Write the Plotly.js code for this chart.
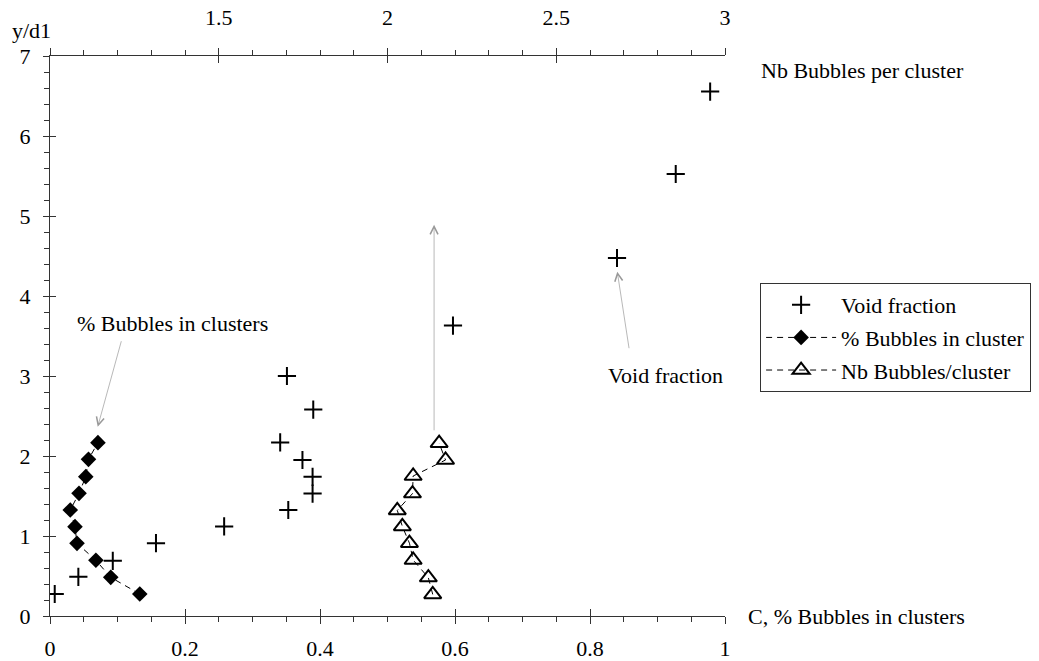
<!DOCTYPE html>
<html>
<head>
<meta charset="utf-8">
<script src="https://cdn.plot.ly/plotly-3.0.1.min.js"></script>
<style>html,body{margin:0;padding:0;background:#fff;}#chart{width:1039px;height:661px;}</style>
</head>
<body>
<div id="chart"></div>
<script>
// ---- data ----
// Void fraction (bottom axis, C)
var voidX = [0.007, 0.042, 0.093, 0.157, 0.258, 0.353, 0.389, 0.389, 0.374, 0.341, 0.390, 0.351, 0.597, 0.840, 0.927, 0.978];
var voidY = [0.275, 0.49, 0.69, 0.91, 1.12, 1.325, 1.53, 1.74, 1.95, 2.17, 2.58, 3.00, 3.63, 4.475, 5.525, 6.555];
// % Bubbles in cluster (bottom axis)
var pctX = [0.133, 0.090, 0.068, 0.040, 0.037, 0.030, 0.043, 0.053, 0.057, 0.071];
var pctY = [0.275, 0.483, 0.696, 0.908, 1.117, 1.325, 1.533, 1.742, 1.958, 2.167];
// Nb Bubbles per cluster (top axis)
var nbX = [2.134, 2.121, 2.076, 2.065, 2.044, 2.029, 2.074, 2.076, 2.172, 2.153];
var nbY = [0.27, 0.48, 0.70, 0.91, 1.12, 1.32, 1.53, 1.75, 1.95, 2.16];
// tick labels
var bottomTicks = [0, 0.2, 0.4, 0.6, 0.8, 1];
var bottomLabels = ['0', '0.2', '0.4', '0.6', '0.8', '1'];
var topTicks = [1, 1.5, 2, 2.5, 3];
var topLabels = ['', '1.5', '2', '2.5', '3'];
var yTicks = [0, 1, 2, 3, 4, 5, 6, 7];
var yLabels = ['0', '1', '2', '3', '4', '5', '6', '7'];

var AX = '#333';
var FONT = "'Liberation Serif', 'DejaVu Serif', 'Times New Roman', serif";

var traces = [
  {x: voidX, y: voidY, type: 'scatter', mode: 'markers', name: 'Void fraction',
   legendgroup: 'a', xaxis: 'x', yaxis: 'y',
   marker: {symbol: 'cross-thin-open', size: 13, color: 'black', line: {color: 'black', width: 2}}},
  {x: pctX, y: pctY, type: 'scatter', mode: 'lines+markers', name: '% Bubbles in cluster',
   legendgroup: 'b', xaxis: 'x', yaxis: 'y',
   line: {color: 'black', width: 1, dash: '6px,5px'},
   marker: {symbol: 'diamond', size: 12, color: 'black'}},
  {x: nbX, y: nbY, type: 'scatter', mode: 'lines+markers', name: 'Nb Bubbles/cluster',
   legendgroup: 'c', xaxis: 'x2', yaxis: 'y',
   line: {color: 'black', width: 1, dash: '6px,5px'},
   marker: {symbol: 'triangle-up-open', size: 15, color: 'black', line: {color: 'black', width: 2}}},
  {x: [], y: [], xaxis: 'x3', yaxis: 'y', showlegend: false, hoverinfo: 'skip', type: 'scatter'},
  {x: [], y: [], xaxis: 'x4', yaxis: 'y', showlegend: false, hoverinfo: 'skip', type: 'scatter'},
  {x: [], y: [], xaxis: 'x', yaxis: 'y2', showlegend: false, hoverinfo: 'skip', type: 'scatter'}
];

var baseAxis = {showgrid: false, zeroline: false, showline: false, tickcolor: AX, tickwidth: 1};

var layout = {
  width: 1039, height: 661,
  margin: {l: 50, r: 314, t: 56, b: 45, autoexpand: false},
  paper_bgcolor: 'white', plot_bgcolor: 'white',
  font: {family: FONT, size: 22, color: 'black'},
  showlegend: true,
  legend: {x: 1.052, y: 0.5946, xanchor: 'left', yanchor: 'top',
           bordercolor: AX, borderwidth: 1, bgcolor: 'white',
           font: {family: FONT, size: 22, color: 'black'},
           itemwidth: 70, tracegroupgap: 1, traceorder: 'grouped'},
  xaxis: Object.assign({}, baseAxis, {
    range: [0, 1], tickmode: 'array', tickvals: bottomTicks, ticktext: bottomLabels,
    ticks: 'outside', ticklen: 7, showline: true, linecolor: AX, linewidth: 1,
    ticklabelstandoff: 6, automargin: false,
    minor: {dtick: 0.05, ticks: 'outside', ticklen: 5, tickcolor: AX, tickwidth: 1, showgrid: false}
  }),
  xaxis2: Object.assign({}, baseAxis, {
    overlaying: 'x', side: 'top', anchor: 'y',
    range: [1, 3], tickmode: 'array', tickvals: topTicks, ticktext: topLabels,
    ticks: 'outside', ticklen: 7, showline: true, linecolor: AX, linewidth: 1,
    ticklabelstandoff: 14, automargin: false,
    minor: {dtick: 0.1, ticks: 'outside', ticklen: 5, tickcolor: AX, tickwidth: 1, showgrid: false}
  }),
  xaxis3: Object.assign({}, baseAxis, {
    overlaying: 'x', side: 'bottom', anchor: 'y',
    range: [0, 1], tickmode: 'array', tickvals: bottomTicks,
    ticks: 'inside', ticklen: 7, showticklabels: false
  }),
  xaxis4: Object.assign({}, baseAxis, {
    overlaying: 'x', side: 'top', anchor: 'y',
    range: [1, 3], tickmode: 'array', tickvals: topTicks,
    ticks: 'inside', ticklen: 7, showticklabels: false
  }),
  yaxis: Object.assign({}, baseAxis, {
    range: [0, 7], tickmode: 'array', tickvals: yTicks, ticktext: yLabels,
    ticks: 'outside', ticklen: 6, showline: true, linecolor: AX, linewidth: 1,
    ticklabelstandoff: 8, automargin: false,
    minor: {dtick: 0.2, ticks: 'outside', ticklen: 5, tickcolor: AX, tickwidth: 1, showgrid: false}
  }),
  yaxis2: Object.assign({}, baseAxis, {
    overlaying: 'y', side: 'left', anchor: 'x',
    range: [0, 7], tickmode: 'array', tickvals: yTicks,
    ticks: 'inside', ticklen: 6, showticklabels: false
  }),
  annotations: [
    {xref: 'paper', yref: 'paper', x: -0.0593, y: 1.045, xanchor: 'left', yanchor: 'middle',
     text: 'y/d1', showarrow: false},
    {xref: 'paper', yref: 'paper', x: 1.0504, y: 0.975, xanchor: 'left', yanchor: 'middle',
     text: 'Nb Bubbles per cluster', showarrow: false},
    {xref: 'paper', yref: 'paper', x: 1.031, y: -0.001, xanchor: 'left', yanchor: 'middle',
     text: 'C, % Bubbles in clusters', showarrow: false},
    {xref: 'x', yref: 'y', x: 0.181, y: 3.66, xanchor: 'center', yanchor: 'middle',
     text: '% Bubbles in clusters', showarrow: false},
    {xref: 'x', yref: 'y', x: 0.912, y: 3.01, xanchor: 'center', yanchor: 'middle',
     text: 'Void fraction', showarrow: false},
    // arrows
    {xref: 'x', yref: 'y', x: 0.0707, y: 2.366, ax: 24, ay: -87, text: '', showarrow: true,
     arrowhead: 5, arrowsize: 2.2, arrowwidth: 0.7, arrowcolor: '#999'},
    {xref: 'x', yref: 'y', x: 0.8404, y: 4.304, ax: 12, ay: 78, text: '', showarrow: true,
     arrowhead: 5, arrowsize: 2.2, arrowwidth: 0.7, arrowcolor: '#999'},
    {xref: 'x', yref: 'y', x: 0.569, y: 4.89, ax: 0, ay: 207, text: '', showarrow: true,
     arrowhead: 5, arrowsize: 2.2, arrowwidth: 0.7, arrowcolor: '#999'}
  ]
};

Plotly.newPlot('chart', traces, layout, {staticPlot: true, displayModeBar: false});
</script>
</body>
</html>
